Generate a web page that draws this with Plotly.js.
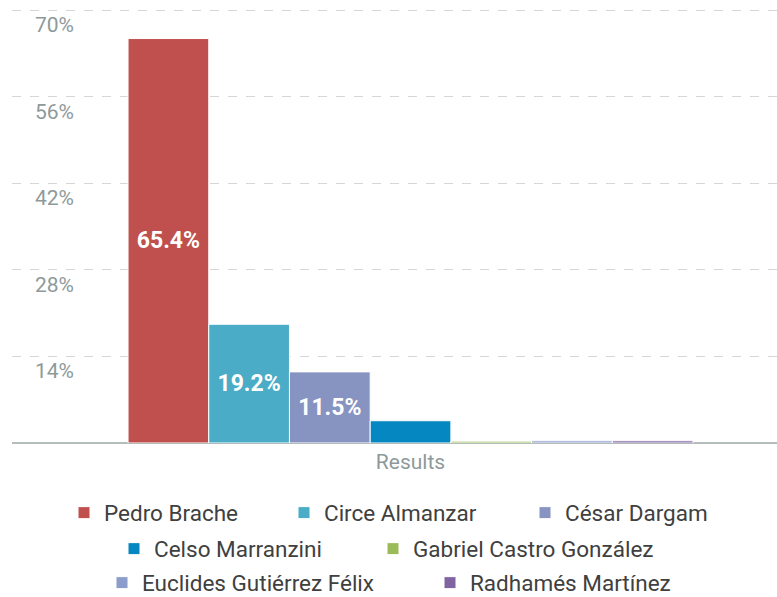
<!DOCTYPE html>
<html>
<head>
<meta charset="utf-8">
<script src="https://cdn.plot.ly/plotly-3.0.1.min.js"></script>
<style>html,body{margin:0;padding:0;background:#fff;}#chart{width:777px;height:597px;}</style>
</head>
<body>
<div id="chart"></div>
<script>
const category = ["Results"];
const candidates = ["Pedro Brache","Circe Almanzar","César Dargam","Celso Marranzini","Gabriel Castro González","Euclides Gutiérrez Félix","Radhamés Martínez"];
const values = [65.4, 19.2, 11.5, 3.6, 0.3, 0.35, 0.35];
const barLabels = ["65.4%","19.2%","11.5%","","","",""];
const colors = ["#c0504d","#4aacc6","#8793c0","#0587c2","#9bbb59","#8c9dcc","#8064a2"];
const yTicks = [14, 28, 42, 56, 70];
const yTickLabels = ["14%","28%","42%","56%","70%"];

const legendIds = ["legend","legend2","legend3","legend4","legend5","legend6","legend7"];
const traces = candidates.map((name, i) => ({
  type: "bar",
  name: name,
  x: category,
  y: [values[i]],
  text: [barLabels[i]],
  textposition: "inside",
  insidetextanchor: "middle",
  textangle: 0,
  textfont: {color: "#ffffff", size: 23, family: "Roboto, sans-serif", weight: "bold"},
  marker: {color: colors[i], line: {color: "#ffffff", width: 1}},
  legend: legendIds[i],
  hoverinfo: "name+y"
}));

const L = 12, W = 765, T = 7, H = 436;
const px = v => (v - L) / W;
const py = v => (T + H - v) / H;
const legPos = [[64,513],[284,513],[525,513],[114,549],[373,549],[102,583],[430,583]];
const legFont = {family: "Roboto, sans-serif", size: 22.5, color: "#404040"};
const layout = {
  width: 777, height: 597,
  margin: {l: L, r: 0, t: T, b: 597 - T - H, autoexpand: false},
  paper_bgcolor: "#ffffff", plot_bgcolor: "#ffffff",
  barmode: "group", bargap: 0.2, bargroupgap: 0,
  xaxis: {
    type: "category",
    range: [-0.5643, 0.5189],
    showgrid: false, showline: false, zeroline: false,
    ticks: "",
    ticklabelstandoff: 4,
    tickfont: {family: "Roboto, sans-serif", size: 21, color: "#8e9a9a"},
    fixedrange: true
  },
  yaxis: {
    range: [0, 70.5],
    tickvals: yTicks,
    ticktext: yTickLabels,
    ticklabelposition: "inside bottom",
    ticklabelstandoff: 20,
    tickfont: {family: "Roboto, sans-serif", size: 21, color: "#8e9a9a"},
    showgrid: true, gridcolor: "#d6d6d6", gridwidth: 1, griddash: "dash",
    zeroline: true, zerolinecolor: "#b5bcbc", zerolinewidth: 1.5,
    showline: false, ticks: "",
    layer: "below traces",
    fixedrange: true
  },
  showlegend: true
};
legendIds.forEach((id, i) => {
  layout[id] = {
    x: px(legPos[i][0]), y: py(legPos[i][1]),
    xanchor: "left", yanchor: "middle",
    orientation: "h",
    font: legFont,
    bgcolor: "rgba(0,0,0,0)",
    borderwidth: 0,
    tracegroupgap: 0
  };
});

Plotly.newPlot("chart", traces, layout, {displayModeBar: false, staticPlot: true});
</script>
</body>
</html>
